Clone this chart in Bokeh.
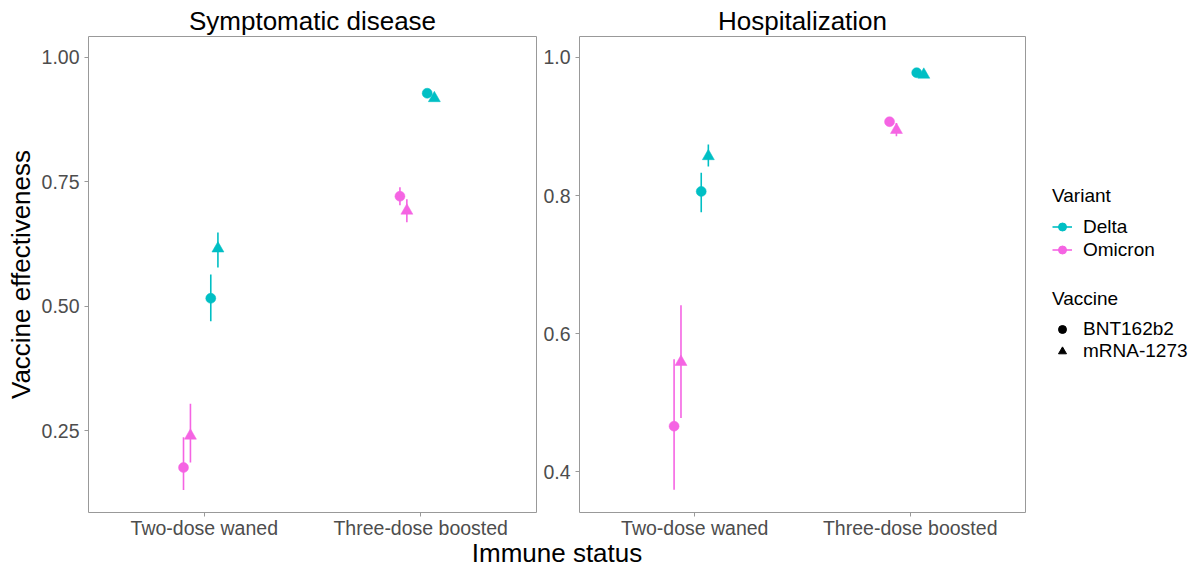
import pandas as pd
from bokeh.plotting import figure
from bokeh.models import (ColumnDataSource, FactorRange, Range1d, FixedTicker, Label,
                          Legend, LegendItem, PrintfTickFormatter)
from bokeh.transform import dodge
from bokeh.layouts import row, column
from bokeh.embed import file_html
from bokeh.resources import INLINE

# ---------------- data ----------------
statuses = ["Two-dose waned", "Three-dose boosted"]
status = ["Two-dose waned"] * 4 + ["Three-dose boosted"] * 4
variant = ["Omicron", "Omicron", "Delta", "Delta"] * 2
vaccine = ["BNT162b2", "mRNA-1273"] * 4

sym_ve = [0.176, 0.240, 0.516, 0.616, 0.721, 0.692, 0.928, 0.918]
sym_lo = [0.131, 0.186, 0.470, 0.578, 0.703, 0.669, 0.924, 0.913]
sym_hi = [0.237, 0.304, 0.564, 0.648, 0.739, 0.715, 0.932, 0.923]

hosp_ve = [0.466, 0.559, 0.806, 0.857, 0.907, 0.895, 0.978, 0.975]
hosp_lo = [0.374, 0.478, 0.776, 0.842, 0.903, 0.886, 0.975, 0.972]
hosp_hi = [0.563, 0.641, 0.833, 0.874, 0.911, 0.905, 0.981, 0.978]

sym_ticks = [0.25, 0.50, 0.75, 1.00]
hosp_ticks = [0.4, 0.6, 0.8, 1.0]

variants = ["Delta", "Omicron"]
vaccines = ["BNT162b2", "mRNA-1273"]

# ---------------- style ----------------
FONT = "Liberation Sans"
colors = {"Delta": "#00BFC4", "Omicron": "#F564E3"}
markers = {"BNT162b2": "circle", "mRNA-1273": "triangle"}
sizes = {"BNT162b2": 10, "mRNA-1273": 12}
offsets = {("Omicron", "BNT162b2"): -0.096, ("Omicron", "mRNA-1273"): -0.064,
           ("Delta", "BNT162b2"): 0.030, ("Delta", "mRNA-1273"): 0.063}
H = 541
BORDER = "#999999"


def panel(title, ve, lo, hi, y0, y1, ticks, fmt, width, mbl, mbr, ylabel=None):
    df = pd.DataFrame(dict(status=status, variant=variant, vaccine=vaccine,
                           ve=ve, lo=lo, hi=hi))
    xr = FactorRange(factors=statuses, range_padding=0.035, range_padding_units="absolute")
    p = figure(x_range=xr, y_range=Range1d(y0, y1), width=width, height=H,
               title=title, output_backend="svg", toolbar_location=None,
               min_border_left=mbl, min_border_right=mbr,
               min_border_top=36, min_border_bottom=29)
    p.title.align = "center"
    p.title.text_font = FONT
    p.title.text_font_size = "26px"
    p.title.text_font_style = "normal"
    p.title.text_color = "black"
    p.title.standoff = 2
    for (var, vac), off in offsets.items():
        sub = df[(df.variant == var) & (df.vaccine == vac)]
        src = ColumnDataSource(sub)
        xd = dodge("status", off, range=xr)
        p.segment(x0=xd, y0="lo", x1=xd, y1="hi", source=src,
                  line_color=colors[var], line_width=1.6)
        p.scatter(x=xd, y="ve", source=src, marker=markers[vac], size=sizes[vac],
                  fill_color=colors[var], line_color=colors[var], line_width=0.5)
    p.xgrid.visible = False
    p.ygrid.visible = False
    p.outline_line_color = BORDER
    p.outline_line_width = 1
    p.background_fill_color = "white"
    p.yaxis.ticker = FixedTicker(ticks=ticks)
    p.yaxis.formatter = PrintfTickFormatter(format=fmt)
    for ax in p.axis:
        ax.axis_line_color = None
        ax.major_tick_line_color = BORDER
        ax.major_tick_out = 4
        ax.major_tick_in = 0
        ax.minor_tick_line_color = None
        ax.major_label_text_font = FONT
        ax.major_label_text_font_size = "19.5px"
        ax.major_label_text_color = "#4d4d4d"
    p.xaxis.major_label_standoff = 0
    p.yaxis.major_label_standoff = 5
    if ylabel:
        p.yaxis.axis_label = ylabel
        p.yaxis.axis_label_text_font = FONT
        p.yaxis.axis_label_text_font_size = "26px"
        p.yaxis.axis_label_text_font_style = "normal"
        p.yaxis.axis_label_text_color = "black"
        p.yaxis.axis_label_standoff = 3
    return p


p1 = panel("Symptomatic disease", sym_ve, sym_lo, sym_hi, 0.0857, 1.042,
           sym_ticks, "%.2f", 537, 88, 1, ylabel="Vaccine effectiveness")
p2 = panel("Hospitalization", hosp_ve, hosp_lo, hosp_hi, 0.341, 1.0304,
           hosp_ticks, "%.1f", 491, 42, 3)

# ---------------- legend panel ----------------
p3 = figure(width=168, height=H, x_range=Range1d(0, 1), y_range=Range1d(0, 1),
            output_backend="svg", toolbar_location=None, min_border=0)
p3.axis.visible = False
p3.xgrid.visible = False
p3.ygrid.visible = False
p3.outline_line_color = None

# legend proxies: placed outside the (hidden) frame so only the keys show
px, py = [-10, -9], [-10, -10]
var_items = []
for v in variants:
    rl = p3.line(x=px, y=py, line_color=colors[v], line_width=1.6)
    rs = p3.scatter(x=px[:1], y=py[:1], marker="circle", size=10, fill_color=colors[v],
                    line_color=colors[v])
    var_items.append(LegendItem(label=v, renderers=[rl, rs]))
vac_items = []
for vc, sz in zip(vaccines, [8, 10]):
    rs = p3.scatter(x=px[:1], y=py[:1], marker=markers[vc], size=sz, fill_color="black",
                    line_color="black")
    vac_items.append(LegendItem(label=vc, renderers=[rs]))


def mk_legend(items, title, loc, gh):
    return Legend(items=items, title=title, location=loc, orientation="vertical",
                  title_text_font=FONT, title_text_font_size="19px",
                  title_text_font_style="normal", title_text_color="black",
                  label_text_font=FONT, label_text_font_size="19px",
                  label_text_color="black",
                  glyph_width=20, glyph_height=gh, label_height=gh, spacing=0,
                  padding=0, margin=0, label_standoff=11, title_standoff=8,
                  border_line_color=None, background_fill_alpha=0)


p3.add_layout(mk_legend(var_items, "Variant", (24, 251), 23), "center")
p3.add_layout(mk_legend(vac_items, "Vaccine", (24, 150), 20), "center")

# ---------------- shared x-axis title ----------------
p4 = figure(width=1196, height=30, x_range=Range1d(0, 1196), y_range=Range1d(0, 30),
            output_backend="svg", toolbar_location=None, min_border=0)
p4.margin = (-4, 0, 0, 0)
p4.axis.visible = False
p4.xgrid.visible = False
p4.ygrid.visible = False
p4.outline_line_color = None
p4.background_fill_alpha = 0
p4.border_fill_alpha = 0
p4.add_layout(Label(x=556.5, y=15, text="Immune status", text_align="center",
                    text_baseline="alphabetic", text_font=FONT,
                    text_font_size="26px", text_color="black"))

layout = column(row(p1, p2, p3), p4)
open("out.html", "w").write(file_html(layout, INLINE))
